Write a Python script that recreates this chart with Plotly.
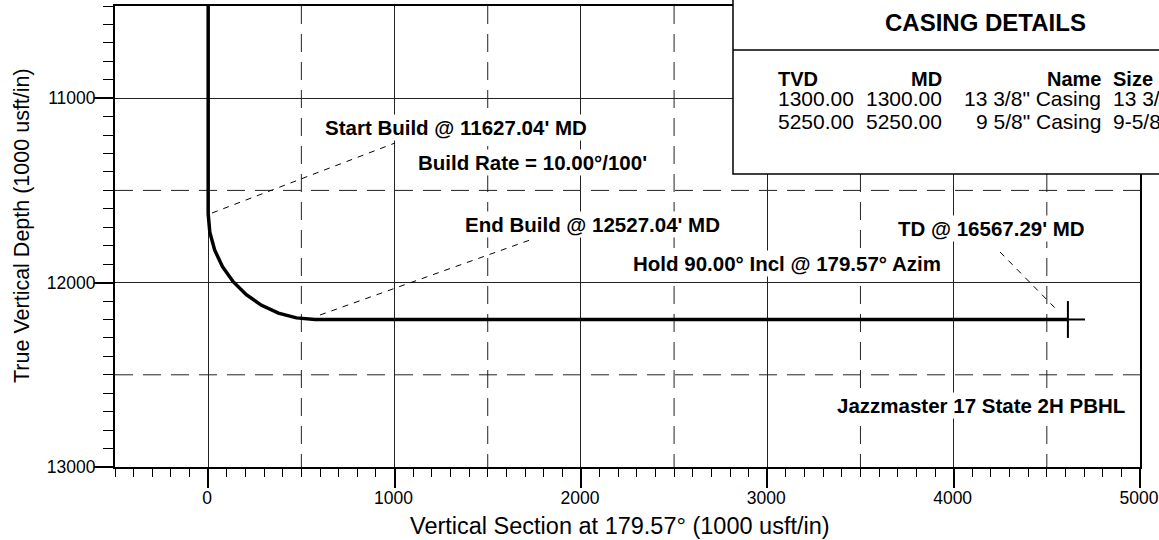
import plotly.graph_objects as go

# ---- data ----
# well path: vertical section (ft) and true vertical depth (ft) stations
vs_ft = [0, 0, 8.7, 34.6, 76.8, 134.1, 204.7, 286.5, 377.0, 473.5, 573.0, 4613.2]
tvd_ft = [10400, 11627.0, 11726.5, 11823.0, 11913.5, 11995.3, 12065.9, 12123.2, 12165.4, 12191.3, 12200.0, 12200.0]

# TD / PBHL target marker
td_vs = 4613.2
td_tvd = 12200.0
pbhl_end_vs = 4705

# dashed half-interval grid lines
x_dash_grid = [500, 1500, 2500, 3500, 4500]
y_dash_grid = [11500, 12500]

# casing details table
casing_headers = ["TVD", "MD", "Name", "Size"]
casing_tvd = ["1300.00", "5250.00"]
casing_md = ["1300.00", "5250.00"]
casing_name = ['13 3/8" Casing', '9 5/8" Casing']
casing_size = ['13 3/8"', '9-5/8"']

# annotation labels
lbl_start = "Start Build @ 11627.04' MD"
lbl_rate = "Build Rate = 10.00°/100'"
lbl_end = "End Build @ 12527.04' MD"
lbl_hold = "Hold 90.00° Incl @ 179.57° Azim"
lbl_td = "TD @ 16567.29' MD"
lbl_pbhl = "Jazzmaster 17 State 2H PBHL"

# ---- layout geometry (page pixels) ----
W, H = 1159, 540
L, R, T, B = 115, 1140, 6, 467          # plot area
XMIN, XMAX = -500, 5000
YTOP, YBOT = 10500, 13000

def X(px):
    return XMIN + (px - L) * (XMAX - XMIN) / (R - L)

def Y(py):
    return YTOP + (py - T) * (YBOT - YTOP) / (B - T)

def PX(px):
    return (px - L) / (R - L)

def PY(py):
    return (B - py) / (B - T)

FONT = "Arial, 'Liberation Sans', sans-serif"

fig = go.Figure()

# well path
fig.add_trace(go.Scatter(x=vs_ft, y=tvd_ft, mode="lines",
                         line=dict(color="black", width=3.5), hoverinfo="skip"))
# TD cross / PBHL
fig.add_trace(go.Scatter(x=[td_vs, td_vs, None, td_vs, pbhl_end_vs],
                         y=[td_tvd - 100, td_tvd + 100, None, td_tvd, td_tvd],
                         mode="lines", line=dict(color="black", width=2), hoverinfo="skip"))

# leader lines
leaders = [
    ([X(212), X(395)], [Y(213), Y(143)]),
    ([X(320), X(530)], [Y(315), Y(240)]),
    ([X(1000), X(1057)], [Y(252), Y(310)]),
]
for lx, ly in leaders:
    fig.add_trace(go.Scatter(x=lx, y=ly, mode="lines",
                             line=dict(color="black", width=1, dash="6px,6px"), hoverinfo="skip"))

shapes = []
for xv in x_dash_grid:
    shapes.append(dict(type="line", xref="x", yref="y", x0=xv, x1=xv, y0=YTOP, y1=YBOT,
                       line=dict(color="#222", width=1, dash="18px,10px"), layer="below"))
for yv in y_dash_grid:
    shapes.append(dict(type="line", xref="x", yref="y", x0=XMIN, x1=XMAX, y0=yv, y1=yv,
                       line=dict(color="#222", width=1, dash="18px,10px"), layer="below"))

# casing details box
shapes.append(dict(type="rect", xref="paper", yref="paper", x0=PX(733), x1=PX(1245),
                   y0=PY(174), y1=PY(-5), fillcolor="white",
                   line=dict(color="black", width=1.5), layer="above"))
shapes.append(dict(type="line", xref="paper", yref="paper", x0=PX(733), x1=PX(1245),
                   y0=PY(50), y1=PY(50), line=dict(color="black", width=1.5), layer="above"))

annotations = []

def add_text(text, cx, cy, size=20.5, bold=True, xanchor="center", bg=True, pad=1):
    annotations.append(dict(text=text, xref="paper", yref="paper", x=PX(cx), y=PY(cy),
                            xanchor=xanchor, yanchor="middle", showarrow=False,
                            font=dict(family=FONT, size=size, color="black",
                                      weight="bold" if bold else "normal"),
                            bgcolor="white" if bg else None, borderpad=pad))

add_text(lbl_start, 456, 127)
add_text(lbl_rate, 532, 162)
add_text(lbl_end, 592, 224)
add_text(lbl_hold, 787, 263)
add_text(lbl_td, 991, 229)
add_text(lbl_pbhl, 981, 405)

# table
add_text("CASING DETAILS", 985, 22, size=24, bg=False)
col_x = [777, 943, 1102, 1112]
col_anchor = ["left", "right", "right", "left"]
for h, cx, an in zip(casing_headers, col_x, col_anchor):
    add_text(h, cx, 79, size=20, xanchor=an, bg=False, pad=0)
row_y = [99, 121]
for i in range(len(casing_tvd)):
    vals = [casing_tvd[i], casing_md[i], casing_name[i], casing_size[i]]
    for v, cx, an in zip(vals, col_x, col_anchor):
        add_text(v, cx, row_y[i], size=21, bold=False, xanchor=an, bg=False, pad=0)

# axis titles
annotations.append(dict(text="True Vertical Depth (1000 usft/in)", xref="paper", yref="paper",
                        x=PX(22), y=PY(226), textangle=-90, showarrow=False,
                        xanchor="center", yanchor="middle",
                        font=dict(family=FONT, size=21.5, color="black")))
annotations.append(dict(text="Vertical Section at 179.57° (1000 usft/in)", xref="paper", yref="paper",
                        x=PX(620), y=PY(526), showarrow=False,
                        xanchor="center", yanchor="middle",
                        font=dict(family=FONT, size=23.5, color="black")))

axis_common = dict(showline=True, linecolor="black", linewidth=2, mirror=True,
                   ticks="outside", ticklen=19, tickwidth=1.5, tickcolor="black",
                   showgrid=True, gridcolor="#222", gridwidth=1, zeroline=False,
                   tickfont=dict(family=FONT, size=17.5, color="black"),
                   tickformat="d", ticklabelstandoff=-5, automargin=False,
                   dtick=1000, tick0=0)

fig.update_layout(
    width=W, height=H, autosize=False,
    margin=dict(l=L, r=W - R, t=T, b=H - B, autoexpand=False),
    paper_bgcolor="white", plot_bgcolor="white",
    showlegend=False,
    hovermode=False,
    xaxis=dict(range=[XMIN, XMAX], ticklabeloverflow="allow", ticklabelshift=-1, **axis_common,
               minor=dict(dtick=100, ticks="outside", ticklen=8, tickcolor="black", tickwidth=1.2, showgrid=False)),
    yaxis=dict(range=[YBOT, YTOP], **axis_common,
               minor=dict(dtick=100, ticks="outside", ticklen=10, tickcolor="black", tickwidth=1.2, showgrid=False)),
    shapes=shapes,
    annotations=annotations,
)

fig.write_html("out.html",
               config={"responsive": False, "displayModeBar": False},
               post_script="document.body.style.margin='0px';document.documentElement.style.overflow='hidden';document.body.style.overflow='hidden';")
